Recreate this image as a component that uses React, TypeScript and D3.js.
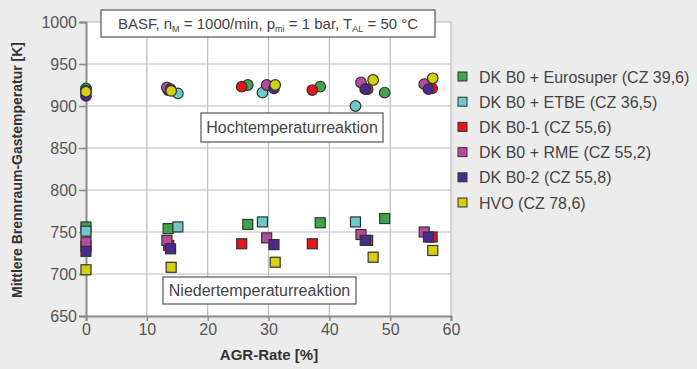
import { useEffect, useRef } from 'react';
import * as d3 from 'd3';

// AGR rate [%] per operating point and mean burned gas temperatures [K]
const euroAgr = [0, 13.5, 26.6, 38.5, 49.1];
const euroHigh = [921, 919, 925, 923, 916];
const euroLow = [756, 754, 759, 761, 766];

const etbeAgr = [0, 15.1, 29.0, 44.3];
const etbeHigh = [918, 915, 916, 900];
const etbeLow = [751, 756, 762, 762];

const b01Agr = [0, 13.6, 25.6, 37.2, 46.3, 56.9];
const b01High = [918, 920, 923, 919, 920, 921];
const b01Low = [733, 734, 736, 736, 740, 744];

const rmeAgr = [0, 13.3, 29.7, 45.2, 55.6];
const rmeHigh = [917, 922, 925, 928, 926];
const rmeLow = [738, 740, 743, 747, 750];

const b02Agr = [0, 13.9, 30.9, 45.9, 56.3];
const b02High = [912, 920, 921, 920, 920];
const b02Low = [727, 730, 735, 740, 744];

const hvoAgr = [0, 14.0, 31.1, 47.2, 57.0];
const hvoHigh = [917, 918, 925, 931, 933];
const hvoLow = [705, 708, 714, 720, 728];

const legendLabels = [
  'DK B0 + Eurosuper (CZ 39,6)',
  'DK B0 + ETBE (CZ 36,5)',
  'DK B0-1 (CZ 55,6)',
  'DK B0 + RME (CZ 55,2)',
  'DK B0-2 (CZ 55,8)',
  'HVO (CZ 78,6)',
];
const colors = ['#3ea64a', '#6ccacb', '#e8141c', '#b64a9f', '#4a2a8e', '#d4d00c'];

const xTicks = [0, 10, 20, 30, 40, 50, 60];
const yTicks = [650, 700, 750, 800, 850, 900, 950, 1000];

const App = () => {
  const svgRef = useRef(null);

  useEffect(() => {
    const width = 697;
    const height = 369;
    const m = { left: 86, right: 451, top: 22, bottom: 316 };
    const font = '"Liberation Sans Narrow", "Liberation Sans", Arial, sans-serif';

    const series = [
      { agr: euroAgr, high: euroHigh, low: euroLow },
      { agr: etbeAgr, high: etbeHigh, low: etbeLow },
      { agr: b01Agr, high: b01High, low: b01Low },
      { agr: rmeAgr, high: rmeHigh, low: rmeLow },
      { agr: b02Agr, high: b02High, low: b02Low },
      { agr: hvoAgr, high: hvoHigh, low: hvoLow },
    ];

    const svg = d3.select(svgRef.current);
    svg.selectAll('*').remove();
    svg.attr('width', width).attr('height', height).style('font-family', font);

    svg.append('rect').attr('width', width).attr('height', height).attr('fill', '#ececec');

    const x = d3.scaleLinear().domain([0, 60]).range([m.left, m.right]);
    const y = d3.scaleLinear().domain([650, 1000]).range([m.bottom, m.top]);

    svg.append('rect')
      .attr('x', m.left).attr('y', m.top)
      .attr('width', m.right - m.left).attr('height', m.bottom - m.top)
      .attr('fill', '#fff');

    // grid
    svg.append('g').selectAll('line').data(xTicks.slice(1)).join('line')
      .attr('x1', d => x(d)).attr('x2', d => x(d))
      .attr('y1', m.top).attr('y2', m.bottom)
      .attr('stroke', '#bdbdbd').attr('stroke-width', 1.2);
    svg.append('g').selectAll('line').data(yTicks.slice(1)).join('line')
      .attr('x1', m.left).attr('x2', m.right)
      .attr('y1', d => y(d)).attr('y2', d => y(d))
      .attr('stroke', '#bdbdbd').attr('stroke-width', 1.2);

    // axes
    const xAxis = svg.append('g').attr('transform', `translate(0,${m.bottom})`)
      .call(d3.axisBottom(x).tickValues(xTicks).tickFormat(d3.format('d')).tickSize(5).tickPadding(3));
    const yAxis = svg.append('g').attr('transform', `translate(${m.left},0)`)
      .call(d3.axisLeft(y).tickValues(yTicks).tickFormat(d3.format('d')).tickSize(7).tickPadding(2));
    [xAxis, yAxis].forEach(a => {
      a.select('.domain').attr('stroke', '#8a8a8a').attr('stroke-width', 2);
      a.selectAll('.tick line').attr('stroke', '#8a8a8a').attr('stroke-width', 1.5);
      a.selectAll('.tick text').attr('fill', '#555').style('font-size', '16px').style('font-family', font);
    });

    // annotation boxes
    const box = (x0, y0, w, h) => svg.append('rect')
      .attr('x', x0).attr('y', y0).attr('width', w).attr('height', h)
      .attr('fill', '#fff').attr('stroke', '#555').attr('stroke-width', 1.2);

    box(101, 10, 334, 27);
    const t = svg.append('text').attr('x', 268).attr('y', 29)
      .attr('text-anchor', 'middle').attr('fill', '#444').style('font-size', '15px');
    t.append('tspan').text('BASF, n');
    t.append('tspan').attr('dy', 3).style('font-size', '9px').text('M');
    t.append('tspan').attr('dy', -3).text(' = 1000/min, p');
    t.append('tspan').attr('dy', 3).style('font-size', '9px').text('mi');
    t.append('tspan').attr('dy', -3).text(' = 1 bar, T');
    t.append('tspan').attr('dy', 3).style('font-size', '9px').text('AL');
    t.append('tspan').attr('dy', -3).text(' = 50 °C');

    box(201, 113, 182, 29);
    svg.append('text').attr('x', 292).attr('y', 133).attr('text-anchor', 'middle')
      .attr('fill', '#444').style('font-size', '16px').text('Hochtemperaturreaktion');

    box(163, 277, 193, 27);
    svg.append('text').attr('x', 259.5).attr('y', 296).attr('text-anchor', 'middle')
      .attr('fill', '#444').style('font-size', '16px').text('Niedertemperaturreaktion');

    // markers
    const s = 10;
    series.forEach((ser, i) => {
      svg.append('g').selectAll('rect').data(ser.agr.map((a, j) => [a, ser.low[j]])).join('rect')
        .attr('x', d => x(d[0]) - s / 2).attr('y', d => y(d[1]) - s / 2)
        .attr('width', s).attr('height', s)
        .attr('fill', colors[i]).attr('stroke', '#333').attr('stroke-width', 1.2);
    });
    series.forEach((ser, i) => {
      svg.append('g').selectAll('circle').data(ser.agr.map((a, j) => [a, ser.high[j]])).join('circle')
        .attr('cx', d => x(d[0])).attr('cy', d => y(d[1])).attr('r', 5.3)
        .attr('fill', colors[i]).attr('stroke', '#333').attr('stroke-width', 1.2);
    });

    // legend
    const lg = svg.append('g').selectAll('g').data(legendLabels).join('g')
      .attr('transform', (d, i) => `translate(458,${77 + i * 25.2})`);
    lg.append('rect').attr('x', 0).attr('y', -5).attr('width', 9).attr('height', 9)
      .attr('fill', (d, i) => colors[i]).attr('stroke', '#333').attr('stroke-width', 1);
    lg.append('text').attr('x', 21).attr('y', 5.5).attr('fill', '#444')
      .style('font-size', '16px').text(d => d);

    // axis titles
    svg.append('text').attr('x', 269).attr('y', 360).attr('text-anchor', 'middle')
      .attr('fill', '#333').style('font-size', '15px').style('font-weight', 'bold')
      .text('AGR-Rate [%]');
    svg.append('text').attr('transform', 'translate(22,170) rotate(-90)')
      .attr('text-anchor', 'middle').attr('fill', '#333')
      .style('font-size', '14px').style('font-weight', 'bold')
      .text('Mittlere Brennraum-Gastemperatur [K]');
  }, []);

  return (
    <div style={{ position: 'absolute', left: 0, top: 0 }}>
      <svg ref={svgRef} style={{ display: 'block' }} />
    </div>
  );
};

export default App;
